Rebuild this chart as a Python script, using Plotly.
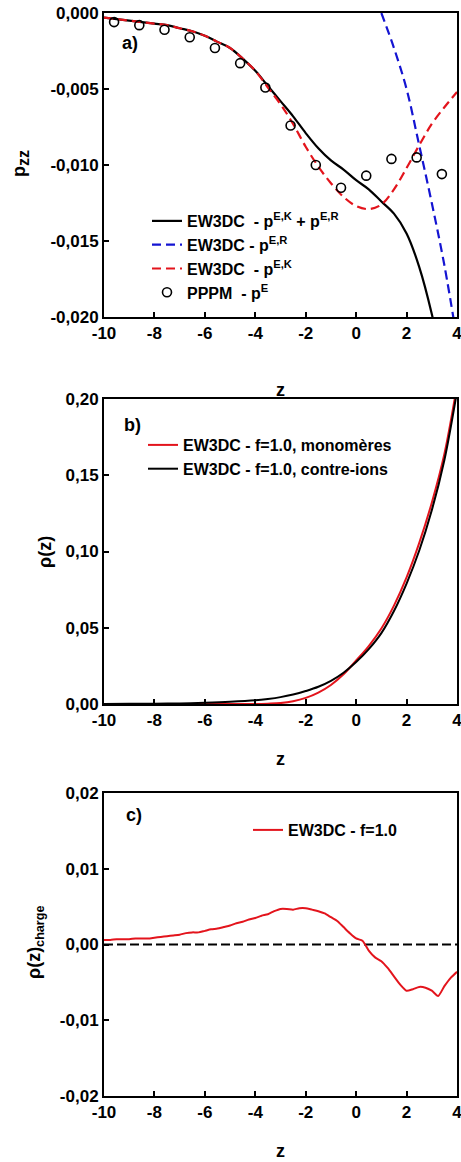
import plotly.graph_objects as go

# ---------------- data ----------------
# panel a) pressure tensor component p_zz
Z_A_TOTAL = [-10, -9.5, -9, -8.5, -8, -7.5, -7, -6.5, -6, -5.5, -5, -4.5, -4, -3.5,
             -3, -2.5, -2, -1.5, -1, -0.5, 0, 0.5, 1, 1.5, 2, 2.5, 3, 3.1]
P_TOTAL = [-0.0003, -0.0004, -0.0005, -0.0006, -0.0007, -0.0008, -0.0010, -0.0012,
           -0.0015, -0.0019, -0.0023, -0.0030, -0.0038, -0.0048, -0.0058, -0.0068,
           -0.0079, -0.0089, -0.0097, -0.0103, -0.0110, -0.0116, -0.0124, -0.0132,
           -0.0145, -0.0167, -0.0198, -0.0206]

Z_A_R = [1.0, 1.5, 2.0, 2.5, 3.0, 3.5, 4.0]
P_R = [0.0, -0.0023, -0.0050, -0.0087, -0.0125, -0.0166, -0.0215]

Z_A_K = [-10, -9.5, -9, -8.5, -8, -7.5, -7, -6.5, -6, -5.5, -5, -4.5, -4, -3.5,
         -3, -2.5, -2, -1.5, -1, -0.5, 0, 0.5, 1, 1.5, 2, 2.5, 3, 3.5, 4]
P_K = [-0.0003, -0.0004, -0.0005, -0.0006, -0.0007, -0.0008, -0.0010, -0.0012,
       -0.0015, -0.0019, -0.0023, -0.0030, -0.0038, -0.0049, -0.0060, -0.0073,
       -0.0088, -0.0101, -0.0112, -0.0121, -0.0127, -0.0129, -0.0126, -0.0116,
       -0.0102, -0.0087, -0.0073, -0.0062, -0.0052]

Z_PPPM = [-9.6, -8.6, -7.6, -6.6, -5.6, -4.6, -3.6, -2.6, -1.6, -0.6, 0.4, 1.4, 2.4, 3.4]
P_PPPM = [-0.0006, -0.0008, -0.0011, -0.0016, -0.0023, -0.0033, -0.0049, -0.0074,
          -0.0100, -0.0115, -0.0107, -0.0096, -0.0095, -0.0106]

# panel b) density profiles
Z_B = [-10, -9, -8, -7, -6, -5, -4, -3.5, -3, -2.5, -2, -1.5, -1, -0.5,
       0, 0.5, 1, 1.5, 2, 2.5, 3, 3.5, 4]
RHO_MONO = [0.0, 0.0, 0.0, 0.0, 0.0, 0.0, 0.0, 0.0002, 0.0006, 0.0018, 0.0040,
            0.0075, 0.0125, 0.0195, 0.0285, 0.0380, 0.0495, 0.0645, 0.0830,
            0.1055, 0.1320, 0.1640, 0.2090]
RHO_CI = [0.0, 0.0001, 0.0002, 0.0004, 0.0008, 0.0014, 0.0024, 0.0033, 0.0045,
          0.0062, 0.0085, 0.0113, 0.0152, 0.0205, 0.0275, 0.0360, 0.0465, 0.0610,
          0.0790, 0.1005, 0.1270, 0.1600, 0.2050]

# panel c) charge density
Z_C = [-10, -9.75, -9.5, -9.25, -9, -8.75, -8.5, -8.25, -8, -7.75, -7.5, -7.25,
       -7, -6.75, -6.5, -6.25, -6, -5.75, -5.5, -5.25, -5, -4.75, -4.5, -4.25,
       -4, -3.75, -3.5, -3.25, -3, -2.75, -2.5, -2.25, -2, -1.75, -1.5, -1.25,
       -1, -0.75, -0.5, -0.25, 0, 0.25, 0.5, 0.75, 1, 1.25, 1.5, 1.75, 2, 2.25,
       2.5, 2.75, 3, 3.25, 3.5, 3.75, 4]
RHO_CHARGE = [0.0006, 0.0006, 0.0007, 0.0007, 0.0007, 0.0008, 0.0008, 0.0008,
              0.0009, 0.0010, 0.0011, 0.0012, 0.0013, 0.0015, 0.0016, 0.0016,
              0.0018, 0.0020, 0.0021, 0.0023, 0.0025, 0.0028, 0.0030, 0.0033,
              0.0035, 0.0038, 0.0040, 0.0044, 0.0047, 0.0047, 0.0046, 0.0048,
              0.0048, 0.0046, 0.0044, 0.0041, 0.0036, 0.0031, 0.0023, 0.0015,
              0.0008, 0.0005, -0.0008, -0.0017, -0.0022, -0.0031, -0.0042,
              -0.0053, -0.0061, -0.0059, -0.0056, -0.0057, -0.0061, -0.0068,
              -0.0055, -0.0044, -0.0036]
Z_ZERO = [-10, 4]
ZERO = [0, 0]

# tick values and labels
X_TICKS = [-10, -8, -6, -4, -2, 0, 2, 4]
X_LABELS = ["-10", "-8", "-6", "-4", "-2", "0", "2", "4"]
YA_TICKS = [0, -0.005, -0.010, -0.015, -0.020]
YA_LABELS = ["0,000", "-0,005", "-0,010", "-0,015", "-0,020"]
YB_TICKS = [0, 0.05, 0.10, 0.15, 0.20]
YB_LABELS = ["0,00", "0,05", "0,10", "0,15", "0,20"]
YC_TICKS = [-0.02, -0.01, 0, 0.01, 0.02]
YC_LABELS = ["-0,02", "-0,01", "0,00", "0,01", "0,02"]

# ---------------- styling ----------------
W, H = 461, 1162
FONT = "Liberation Sans"
BLACK = "#000000"
RED = "#e3141c"
BLUE = "#1414d2"


def px_x(x):
    return x / W


def px_y(y):
    return 1 - y / H


X_DOM = [px_x(104), px_x(457)]
DOMAINS = {
    "a": [px_y(317), px_y(13)],
    "b": [px_y(704), px_y(399)],
    "c": [px_y(1096), px_y(793)],
}

fig = go.Figure()

# panel a
fig.add_trace(go.Scatter(x=Z_A_TOTAL, y=P_TOTAL, mode="lines", line=dict(color=BLACK, width=2.2, shape="spline"),
                         name="EW3DC  - p<sup>E,K</sup> + p<sup>E,R</sup>", xaxis="x", yaxis="y", legend="legend"))
fig.add_trace(go.Scatter(x=Z_A_R, y=P_R, mode="lines", line=dict(color=BLUE, width=2.2, dash="9px,5px", shape="spline"),
                         name="EW3DC - p<sup>E,R</sup>", xaxis="x", yaxis="y", legend="legend"))
fig.add_trace(go.Scatter(x=Z_A_K, y=P_K, mode="lines", line=dict(color=RED, width=2.2, dash="9px,5px", shape="spline"),
                         name="EW3DC  - p<sup>E,K</sup>", xaxis="x", yaxis="y", legend="legend"))
fig.add_trace(go.Scatter(x=Z_PPPM, y=P_PPPM, mode="markers",
                         marker=dict(symbol="circle-open", size=9, color=BLACK, line=dict(width=1.6)),
                         name="PPPM  - p<sup>E</sup>", xaxis="x", yaxis="y", legend="legend"))

# panel b
fig.add_trace(go.Scatter(x=Z_B, y=RHO_MONO, mode="lines", line=dict(color=RED, width=2, shape="spline"),
                         name="EW3DC - f=1.0, monomères", xaxis="x2", yaxis="y2", legend="legend2"))
fig.add_trace(go.Scatter(x=Z_B, y=RHO_CI, mode="lines", line=dict(color=BLACK, width=2, shape="spline"),
                         name="EW3DC - f=1.0, contre-ions", xaxis="x2", yaxis="y2", legend="legend2"))

# panel c
fig.add_trace(go.Scatter(x=Z_ZERO, y=ZERO, mode="lines", line=dict(color=BLACK, width=2, dash="9px,4px"),
                         showlegend=False, xaxis="x3", yaxis="y3"))
fig.add_trace(go.Scatter(x=Z_C, y=RHO_CHARGE, mode="lines", line=dict(color=RED, width=2, shape="spline", smoothing=0.6),
                         name="EW3DC - f=1.0", xaxis="x3", yaxis="y3", legend="legend3"))

tick_font = dict(family=FONT, size=17, color=BLACK, weight="bold")
title_font = dict(family=FONT, size=18, color=BLACK, weight="bold")


def xaxis(anchor, standoff):
    return dict(domain=X_DOM, anchor=anchor, range=[-10, 4], tickvals=X_TICKS, ticktext=X_LABELS,
                ticks="inside", ticklen=5, tickwidth=2, tickcolor=BLACK,
                showline=True, linewidth=2, linecolor=BLACK, mirror=True,
                showgrid=False, zeroline=False, tickfont=tick_font, ticklabeloverflow="allow",
                title=dict(text="z", font=title_font, standoff=standoff), automargin=False)


def yaxis(anchor, dom, rng, vals, labels):
    return dict(domain=dom, anchor=anchor, range=rng, tickvals=vals, ticktext=labels,
                ticks="inside", ticklen=5, tickwidth=2, tickcolor=BLACK,
                showline=True, linewidth=2, linecolor=BLACK, mirror=True,
                showgrid=False, zeroline=False, tickfont=tick_font, ticklabeloverflow="allow",
                automargin=False)


def ytitle(text, xc, yc):
    # vertical axis title placed beside its tick labels
    return dict(text=text, x=px_x(xc), y=px_y(yc), xref="paper", yref="paper",
                xanchor="center", yanchor="middle", textangle=-90, showarrow=False, font=title_font)


def panel_tag(text, x, y):
    return dict(text=text, x=px_x(x), y=px_y(y), xref="paper", yref="paper", xanchor="left",
                yanchor="middle", showarrow=False, font=title_font)


legend_font = dict(family=FONT, size=16, color=BLACK, weight="bold")

fig.update_layout(
    width=W, height=H,
    margin=dict(l=0, r=0, t=0, b=0),
    paper_bgcolor="white", plot_bgcolor="white",
    font=dict(family=FONT, color=BLACK),
    xaxis=xaxis("y", 41),
    yaxis=yaxis("x", DOMAINS["a"], [-0.020, 0], YA_TICKS, YA_LABELS),
    xaxis2=xaxis("y2", 23),
    yaxis2=yaxis("x2", DOMAINS["b"], [0, 0.20], YB_TICKS, YB_LABELS),
    xaxis3=xaxis("y3", 23),
    yaxis3=yaxis("x3", DOMAINS["c"], [-0.02, 0.02], YC_TICKS, YC_LABELS),
    legend=dict(x=px_x(147), y=px_y(204), xanchor="left", yanchor="top", bgcolor="rgba(0,0,0,0)",
                font=legend_font, itemwidth=30, tracegroupgap=0),
    legend2=dict(x=px_x(143), y=px_y(428), xanchor="left", yanchor="top", bgcolor="rgba(0,0,0,0)",
                 font=legend_font, itemwidth=30),
    legend3=dict(x=px_x(248), y=px_y(813), xanchor="left", yanchor="top", bgcolor="rgba(0,0,0,0)",
                 font=legend_font, itemwidth=30),
    annotations=[
        panel_tag("a)", 120, 43),
        panel_tag("b)", 122, 425),
        panel_tag("c)", 124, 815),
        ytitle("p<sub><span style='font-size:16px'>zz</span></sub>", 21, 164),
        ytitle("ρ(z)", 45, 552),
        ytitle("ρ(z)<sub>charge</sub>", 35, 943),
    ],
)

fig.write_html("out.html")
